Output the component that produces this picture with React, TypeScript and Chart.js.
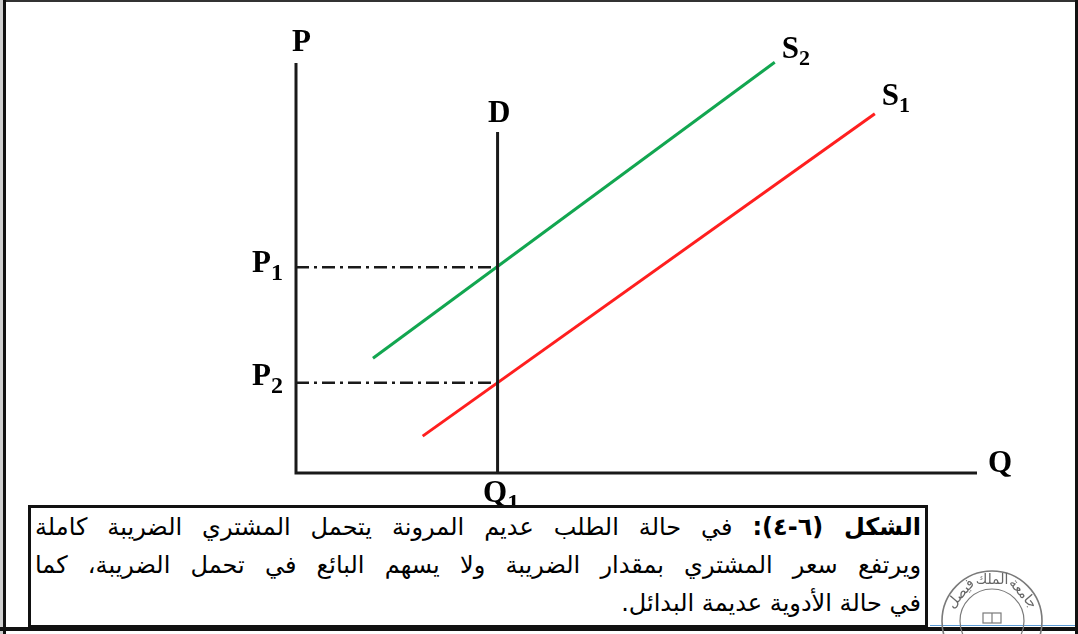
import React, { useEffect, useRef } from "react";
import { Chart, registerables } from "chart.js";
Chart.register(...registerables);

// ---- data (in abstract Q / P units, 0..100) ----
const axisRange = [0, 100];
const demandQ = 29.6;
const demandTop = 83.2;
const supply2Q = [11.3, 70.3];
const supply2P = [28.0, 100.2];
const supply1Q = [18.6, 85.0];
const supply1P = [9.0, 87.6];
const priceP1 = 50.2;
const priceP2 = 22.0;
const labelNames = ["P", "Q", "D", "S", "P", "P", "Q"];
const captionBold = "الشكل (٦-٤):";
const captionLine1 = " في حالة الطلب عديم المرونة يتحمل المشتري الضريبة كاملة";
const captionLine2 = "ويرتفع سعر المشتري بمقدار الضريبة ولا يسهم البائع في تحمل الضريبة، كما";
const captionLine3 = "في حالة الأدوية عديمة البدائل.";
const logoWords = ["جامعة", "الملك", "فيصل"];

const serif = (s: number) => `bold ${s}px "Liberation Serif", "Times New Roman", serif`;

function drawLabel(
  ctx: CanvasRenderingContext2D,
  main: string,
  sub: string,
  x: number,
  y: number,
  align: "left" | "right",
  mainSize: number,
  subSize: number,
  subDrop: number
) {
  ctx.save();
  ctx.fillStyle = "#000";
  ctx.textBaseline = "alphabetic";
  ctx.textAlign = "left";
  ctx.font = serif(mainSize);
  const wm = ctx.measureText(main).width;
  ctx.font = serif(subSize);
  const ws = sub ? ctx.measureText(sub).width : 0;
  const left = align === "left" ? x : x - wm - ws;
  ctx.font = serif(mainSize);
  ctx.fillText(main, left, y);
  if (sub) {
    ctx.font = serif(subSize);
    ctx.fillText(sub, left + wm, y + subDrop);
  }
  ctx.restore();
}

const framePlugin = {
  id: "frameAndLabels",
  beforeDraw(chart: any) {
    const ctx = chart.ctx as CanvasRenderingContext2D;
    ctx.save();
    ctx.fillStyle = "#fff";
    ctx.fillRect(0, 0, chart.width, chart.height);
    ctx.restore();
  },
  afterDraw(chart: any) {
    const ctx = chart.ctx as CanvasRenderingContext2D;
    const xs = chart.scales.x;
    const ys = chart.scales.y;
    const px = (v: number) => xs.getPixelForValue(v);
    const py = (v: number) => ys.getPixelForValue(v);

    // frame
    ctx.save();
    ctx.fillStyle = "#333";
    ctx.fillRect(0, 0, 1078, 2);
    ctx.fillStyle = "#cfcfcf";
    ctx.fillRect(0, 0, 3, 634);
    ctx.fillStyle = "#111";
    ctx.fillRect(3, 0, 3, 634);
    ctx.fillRect(1075, 0, 3, 634);
    ctx.fillRect(0, 627, 1078, 4);
    ctx.fillStyle = "#5b9bd5";
    ctx.fillRect(930, 625, 145, 1);
    ctx.restore();

    // labels
    const x0 = px(axisRange[0]);
    const y0 = py(axisRange[0]);
    drawLabel(ctx, labelNames[0], "", x0 - 4, py(axisRange[1]) - 12, "left", 31, 22, 0);
    drawLabel(ctx, labelNames[1], "", px(axisRange[1]) + 11, y0 - 1, "left", 31, 22, 0);
    drawLabel(ctx, labelNames[2], "", px(demandQ) - 9.5, py(demandTop) - 10, "left", 31, 22, 0);
    drawLabel(ctx, labelNames[3], "2", px(supply2Q[1]) + 7, py(supply2P[1]) - 4, "left", 31, 22, 7);
    drawLabel(ctx, labelNames[3], "1", px(supply1Q[1]) + 7, py(supply1P[1]) - 9, "left", 31, 22, 7);
    drawLabel(ctx, labelNames[4], "1", x0 - 13, py(priceP1) + 5, "right", 31, 24, 8);
    drawLabel(ctx, labelNames[5], "2", x0 - 13, py(priceP2) + 2, "right", 31, 24, 8);
    drawLabel(ctx, labelNames[6], "1", px(demandQ) - 14.5, y0 + 29, "left", 31, 24, 8);

    // university seal
    const cx = 992;
    const cy = 621;
    ctx.save();
    ctx.strokeStyle = "#7a7a7a";
    ctx.lineWidth = 1.6;
    ctx.beginPath();
    ctx.arc(cx, cy, 50, 0, Math.PI * 2);
    ctx.stroke();
    ctx.lineWidth = 1.2;
    ctx.beginPath();
    ctx.arc(cx, cy, 32, 0, Math.PI * 2);
    ctx.stroke();
    ctx.strokeRect(cx - 9, cy - 8, 18, 10);
    ctx.beginPath();
    ctx.moveTo(cx, cy - 8);
    ctx.lineTo(cx, cy + 2);
    ctx.stroke();
    ctx.fillStyle = "#666";
    ctx.font = `14px "DejaVu Sans", sans-serif`;
    ctx.textAlign = "center";
    ctx.textBaseline = "middle";
    const angles = [0.85, 0.0, -0.85];
    logoWords.forEach((w, i) => {
      const a = angles[i];
      ctx.save();
      ctx.translate(cx + Math.sin(a) * 41, cy - Math.cos(a) * 41);
      ctx.rotate(a);
      ctx.fillText(w, 0, 0);
      ctx.restore();
    });
    ctx.restore();
  },
};

export default function App() {
  const ref = useRef<HTMLCanvasElement | null>(null);
  useEffect(() => {
    if (!ref.current) return;
    const black = "#1a1a1a";
    const line = (data: { x: number; y: number }[], color: string, width: number, dash: number[] = []) => ({
      data,
      showLine: true,
      borderColor: color,
      borderWidth: width,
      borderDash: dash,
      pointRadius: 0,
      pointHoverRadius: 0,
      fill: false,
      tension: 0,
      clip: false as any,
      borderCapStyle: "butt" as const,
    });
    const chart = new Chart(ref.current, {
      type: "scatter",
      data: {
        datasets: [
          line([{ x: axisRange[0], y: priceP1 }, { x: demandQ, y: priceP1 }], black, 2.5, [13, 5, 3, 5]),
          line([{ x: axisRange[0], y: priceP2 }, { x: demandQ, y: priceP2 }], black, 2.5, [13, 5, 3, 5]),
          line([{ x: axisRange[0], y: axisRange[1] }, { x: axisRange[0], y: axisRange[0] }, { x: axisRange[1], y: axisRange[0] }], black, 3),
          line([{ x: demandQ, y: demandTop }, { x: demandQ, y: axisRange[0] }], black, 3),
          line([{ x: supply2Q[0], y: supply2P[0] }, { x: supply2Q[1], y: supply2P[1] }], "#12a650", 3),
          line([{ x: supply1Q[0], y: supply1P[0] }, { x: supply1Q[1], y: supply1P[1] }], "#ff1f1f", 3),
        ],
      },
      options: {
        animation: false,
        responsive: false,
        devicePixelRatio: 1,
        layout: { padding: { left: 296, right: 101, top: 63, bottom: 161 } },
        scales: {
          x: { type: "linear", min: axisRange[0], max: axisRange[1], display: false },
          y: { type: "linear", min: axisRange[0], max: axisRange[1], display: false },
        },
        plugins: { legend: { display: false }, tooltip: { enabled: false } },
        events: [],
      },
      plugins: [framePlugin],
    });
    return () => chart.destroy();
  }, []);

  const lineStyle: React.CSSProperties = {
    textAlign: "justify",
    textAlignLast: "justify" as any,
    height: 38,
  };

  return (
    <div style={{ position: "fixed", left: 0, top: 0, width: 1078, height: 634, overflow: "hidden", background: "#fff" }}>
      <canvas ref={ref} width={1078} height={634} style={{ position: "absolute", left: 0, top: 0, width: 1078, height: 634 }} />
      <div
        style={{
          position: "absolute",
          left: 28,
          top: 505,
          width: 900,
          height: 123,
          boxSizing: "border-box",
          border: "3px solid #111",
          background: "#fff",
          direction: "rtl",
          fontFamily: '"DejaVu Sans", sans-serif',
          fontSize: 24,
          lineHeight: "38px",
          color: "#000",
          padding: "0 4px 0 4px",
          overflow: "hidden",
        }}
      >
        <div style={lineStyle}>
          <b>{captionBold}</b>
          {captionLine1}
        </div>
        <div style={lineStyle}>{captionLine2}</div>
        <div style={{ textAlign: "right", height: 38 }}>{captionLine3}</div>
      </div>
    </div>
  );
}
